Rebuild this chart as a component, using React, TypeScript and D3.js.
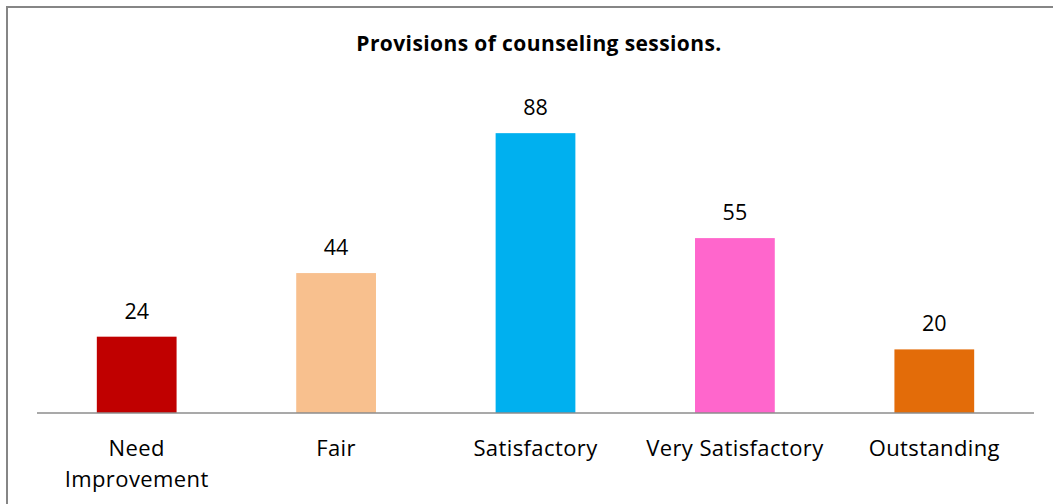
import React from "react";
import * as d3 from "d3";

const categories = ["Need Improvement", "Fair", "Satisfactory", "Very Satisfactory", "Outstanding"];
const labelLines = [["Need", "Improvement"], ["Fair"], ["Satisfactory"], ["Very Satisfactory"], ["Outstanding"]];
const values = [24, 44, 88, 55, 20];
const colors = ["#C00000", "#F8C08E", "#00B0EF", "#FF66CC", "#E36C09"];
const title = "Provisions of counseling sessions.";

const W = 1053;
const H = 504;
const left = 37;
const right = 1034;
const baseY = 413;
const topY = 95;
const FONT = "'Open Sans', Lato, sans-serif";

export default function App() {
  const x = d3.scaleBand<string>().domain(categories).range([left, right]).paddingInner(0.6).paddingOuter(0.3);
  const y = d3.scaleLinear().domain([0, 100]).range([baseY, topY]);
  return (
    <svg width={W} height={H} style={{ position: "absolute", left: 0, top: 0 }}>
      <rect x={0} y={0} width={W} height={H} fill="#fff" />
      <rect x={7} y={7} width={W + 10} height={H + 10} fill="none" stroke="#868686" strokeWidth={2} />
      <text x={539} y={51} textAnchor="middle" fontFamily={FONT} fontWeight="bold" fontSize={21} letterSpacing={0.4} fill="#000">
        {title}
      </text>
      {categories.map((c, i) => (
        <rect key={c} x={x(c)} y={y(values[i])} width={x.bandwidth()} height={baseY - y(values[i])} fill={colors[i]} />
      ))}
      <line x1={left} x2={right} y1={baseY} y2={baseY} stroke="#8C8C8C" strokeWidth={1.5} />
      {categories.map((c, i) => (
        <text key={c + "v"} x={(x(c) as number) + x.bandwidth() / 2} y={y(values[i]) - 18} textAnchor="middle" fontFamily={FONT} fontSize={21.5} fill="#000">
          {values[i]}
        </text>
      ))}
      {categories.map((c, i) => (
        <text key={c + "l"} textAnchor="middle" fontFamily={FONT} fontSize={22} letterSpacing={0.4} fill="#000">
          {labelLines[i].map((ln, j) => (
            <tspan key={j} x={(x(c) as number) + x.bandwidth() / 2} y={456 + j * 31}>
              {ln}
            </tspan>
          ))}
        </text>
      ))}
    </svg>
  );
}
